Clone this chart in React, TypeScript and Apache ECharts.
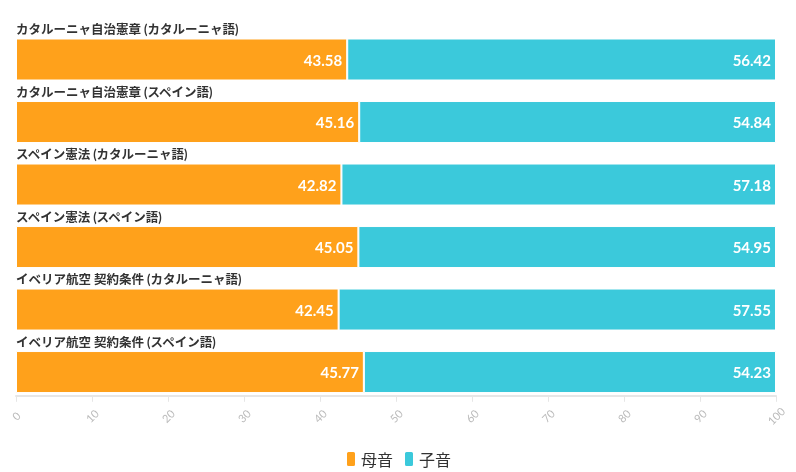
import React, { useEffect, useRef } from "react";
import * as echarts from "echarts";

const categories = [
  "カタルーニャ自治憲章 (カタルーニャ語)",
  "カタルーニャ自治憲章 (スペイン語)",
  "スペイン憲法 (カタルーニャ語)",
  "スペイン憲法 (スペイン語)",
  "イベリア航空 契約条件 (カタルーニャ語)",
  "イベリア航空 契約条件 (スペイン語)",
];
const vowels = [43.58, 45.16, 42.82, 45.05, 42.45, 45.77];
const consonants = [56.42, 54.84, 57.18, 54.95, 57.55, 54.23];
const seriesNames = ["母音", "子音"];
const colors = ["#ffa11b", "#3bc9db"];

export default function App() {
  const ref = useRef<HTMLDivElement>(null);
  useEffect(() => {
    if (!ref.current) return;
    const chart = echarts.init(ref.current, undefined, { renderer: "svg" });
    const font = 'Lato, "Noto Sans CJK JP", sans-serif';
    const mk = (name: string, data: number[], color: string) => ({
      name,
      type: "bar",
      stack: "total",
      data,
      barWidth: 42,
      itemStyle: { color, borderColor: "#ffffff", borderWidth: 1 },
      label: {
        show: true,
        position: "insideRight",
        color: "#ffffff",
        fontFamily: font,
        fontWeight: "bold",
        fontSize: 15,
        textBorderColor: color,
        textBorderWidth: 2,
        formatter: (p: any) => p.value.toFixed(2),
      },
    });
    chart.setOption({
      animation: false,
      textStyle: { fontFamily: font },
      color: colors,
      grid: { left: 16, right: 20, top: 22.4, bottom: 68.7, containLabel: false },
      legend: {
        top: 445,
        left: "center",
        icon: "roundRect",
        itemWidth: 10,
        itemHeight: 16,
        itemGap: 10,
        textStyle: { fontSize: 16, color: "#333", fontFamily: font },
        data: seriesNames,
      },
      xAxis: {
        type: "value",
        min: 0,
        max: 100,
        interval: 10,
        offset: -7.5,
        axisLine: { show: true, lineStyle: { color: "#e6e6e6", width: 2 } },
        axisTick: { show: true, length: 6, lineStyle: { color: "#e6e6e6" } },
        splitLine: { show: false },
        axisLabel: {
          rotate: 45,
          align: "center",
          verticalAlign: "middle",
          color: "#bbbbbb",
          fontSize: 11,
          margin: 20,
        },
      },
      yAxis: {
        type: "category",
        inverse: true,
        z: 10,
        data: categories,
        axisLine: { show: false },
        axisTick: { show: false },
        axisLabel: {
          inside: true,
          margin: 0,
          align: "left",
          verticalAlign: "bottom",
          lineHeight: 60,
          color: "#333333",
          fontWeight: "bold",
          fontSize: 12.5,
          fontFamily: font,
        },
      },
      series: [mk(seriesNames[0], vowels, colors[0]), mk(seriesNames[1], consonants, colors[1])],
    });
    return () => chart.dispose();
  }, []);
  return (
    <div
      ref={ref}
      style={{ position: "fixed", left: 0, top: 0, width: 796, height: 472 }}
    />
  );
}
